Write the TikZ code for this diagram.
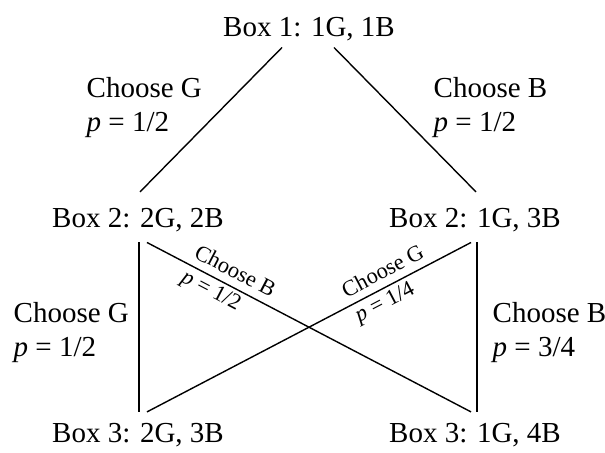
\documentclass[tikz,border=0pt]{standalone}
\usepackage{fontspec}
\setmainfont{Liberation Serif}
\usetikzlibrary{positioning}

\begin{document}
\begin{tikzpicture}[x=0.5pt,y=-0.5pt,line width=0.7pt,
    boxnode/.style={anchor=base,inner sep=0pt,
      font=\fontsize{14.5}{17}\selectfont,text height=10.2pt,text depth=2.9pt},
    choice/.style={anchor=north west,inner sep=0pt,align=left,
      font=\fontsize{14.5}{17}\selectfont},
    slopelbl/.style={sloped,pos=0.25,inner sep=0pt,align=left,
      font=\fontsize{11.2}{13.8}\selectfont}]
  \useasboundingbox (0,0) rectangle (605,453);

  \node[boxnode] (box1) at (309,37) {Box 1: 1G, 1B};
  \node[boxnode] (box2g) at (138,228) {Box 2: 2G, 2B};
  \node[boxnode] (box2b) at (475,228) {Box 2: 1G, 3B};
  \node[boxnode] (box3g) at (138,443) {Box 3: 2G, 3B};
  \node[boxnode] (box3b) at (475,443) {Box 3: 1G, 4B};

  \node[choice] (chg1) at (86,77) {Choose G\\\textit{p} = 1/2};
  \node[choice] (chb1) at (433,77) {Choose B\\\textit{p} = 1/2};
  \node[choice] (chg2) at (13,302) {Choose G\\\textit{p} = 1/2};
  \node[choice] (chb2) at (492,302) {Choose B\\\textit{p} = 3/4};

  \draw ([shift={(-27,4)}]box1.south) -- ([shift={(2,-15)}]box2g.north);
  \draw ([shift={(25,4)}]box1.south) -- ([shift={(1,-15)}]box2b.north);

  \draw ([shift={(1,8)}]box2g.south) -- ([shift={(1,-10)}]box3g.north);
  \draw ([shift={(2,8)}]box2b.south) -- ([shift={(2,-10)}]box3b.north);
  \draw ([shift={(9,8)}]box2g.south)
    -- node[slopelbl] {Choose B\\\textit{p} = 1/2} ([shift={(-4,-10)}]box3b.north);
  \draw ([shift={(-4,8)}]box2b.south)
    -- node[slopelbl] {Choose G\\\textit{p} = 1/4} ([shift={(9,-10)}]box3g.north);
\end{tikzpicture}
\end{document}
